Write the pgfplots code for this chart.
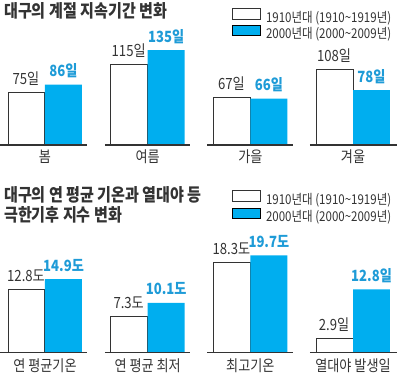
\documentclass[border=0pt]{standalone}
\usepackage{fontspec}
\setmainfont{Noto Sans CJK KR}[FakeStretch=0.85]
\usepackage{pgfplots}
\pgfplotsset{compat=1.18}
\definecolor{barblue}{HTML}{00AEEF}
\definecolor{lblblue}{HTML}{1E9BD7}
\definecolor{ink}{HTML}{333333}
\newcommand\titlefont{\fontsize{17.8pt}{20pt}\selectfont\bfseries}
\newcommand\catfont{\fontsize{15.5pt}{17pt}\selectfont}
\newcommand\valfont{\fontsize{15.5pt}{17pt}\selectfont}
\newcommand\legfont{\fontsize{13.6pt}{16pt}\selectfont}
\pgfplotsset{
  myax/.style={
    scale only axis, width=400bp, anchor=north west,
    xmin=-0.4383, xmax=3.4578, ymin=0,
    axis line style={draw=none}, major tick length=0pt, ytick=\empty,
    xtick={0,1,2,3}, clip=false,
    xticklabel style={font=\catfont, text=ink, anchor=center},
    legend image code/.code={\draw[##1] (0bp,-1.7bp) rectangle (28bp,8.8bp);},
    legend cell align=left,
    legend style={draw=none, fill=none, inner sep=0pt, outer sep=0pt,
      column sep=5bp, font=\legfont, nodes={text=ink, inner sep=0pt}},
  },
  whitebar/.style={ybar, bar width=0.36, bar shift=-0.18, fill=white, draw=ink, line width=1bp,
    point meta=explicit symbolic, nodes near coords,
    nodes near coords style={anchor=base, yshift=8bp, xshift=-19bp, font=\valfont, text=ink}},
  bluebar/.style={ybar, bar width=0.36, bar shift=0.18, fill=barblue, draw=none,
    point meta=explicit symbolic, nodes near coords,
    nodes near coords style={anchor=base, yshift=8bp, xshift=18.5bp, font=\valfont\bfseries, text=lblblue}},
  baseln/.style={forget plot, draw=ink, line width=1.3bp, unbounded coords=jump},
}
\begin{document}
\begin{tikzpicture}
\path[use as bounding box] (0,0) rectangle (400bp,-374bp);
% top chart
\begin{axis}[myax, at={(0,0)}, height=145bp, ymax=206.26,
  xticklabels={봄,여름,가을,겨울},
  xticklabel style={yshift=-12bp},
  legend style={at={(rel axis cs:0.58,0.943)}, anchor=north west, row sep=1bp}]
\addplot[whitebar] coordinates {(0,75)[75일] (1,115)[115일] (2,67)[67일] (3,108)[108일]};
\addlegendentry{1910년대 (1910\textasciitilde1919년)}
\addplot[bluebar] coordinates {(0,86)[86일] (1,135)[135일] (2,66)[66일] (3,78)[78일]};
\addlegendentry{2000년대 (2000\textasciitilde2009년)}
\addplot[baseln] coordinates {(-0.44,0) (0.41,0) (0.5,nan) (0.584,0) (1.412,0) (1.5,nan) (1.578,0) (2.415,0) (2.5,nan) (2.581,0) (3.428,0)};
\end{axis}
% bottom chart
\begin{axis}[myax, at={(0,-180bp)}, height=172.7bp, ymax=34.96,
  xticklabels={연 평균기온,연 평균 최저,최고기온,열대야 발생일},
  xticklabel style={yshift=-13.3bp},
  legend style={at={(rel axis cs:0.58,0.9395)}, anchor=north west, row sep=1.7bp}]
\addplot[whitebar] coordinates {(0,12.8)[12.8도] (1,7.3)[7.3도] (2,18.3)[18.3도] (3,2.9)[2.9일]};
\addlegendentry{1910년대 (1910\textasciitilde1919년)}
\addplot[bluebar] coordinates {(0,14.9)[14.9도] (1,10.1)[10.1도] (2,19.7)[19.7도] (3,12.8)[12.8일]};
\addlegendentry{2000년대 (2000\textasciitilde2009년)}
\addplot[baseln] coordinates {(-0.44,0) (0.41,0) (0.5,nan) (0.584,0) (1.412,0) (1.5,nan) (1.578,0) (2.415,0) (2.5,nan) (2.581,0) (3.428,0)};
\end{axis}
% titles
\node[anchor=base west, inner sep=0pt, text=ink, font=\titlefont] at (4bp,-17.5bp) {대구의 계절 지속기간 변화};
\node[anchor=base west, inner sep=0pt, text=ink, font=\titlefont] at (4bp,-201.5bp) {대구의 연 평균 기온과 열대야 등};
\node[anchor=base west, inner sep=0pt, text=ink, font=\titlefont] at (4bp,-221.5bp) {극한기후 지수 변화};
\end{tikzpicture}
\end{document}
